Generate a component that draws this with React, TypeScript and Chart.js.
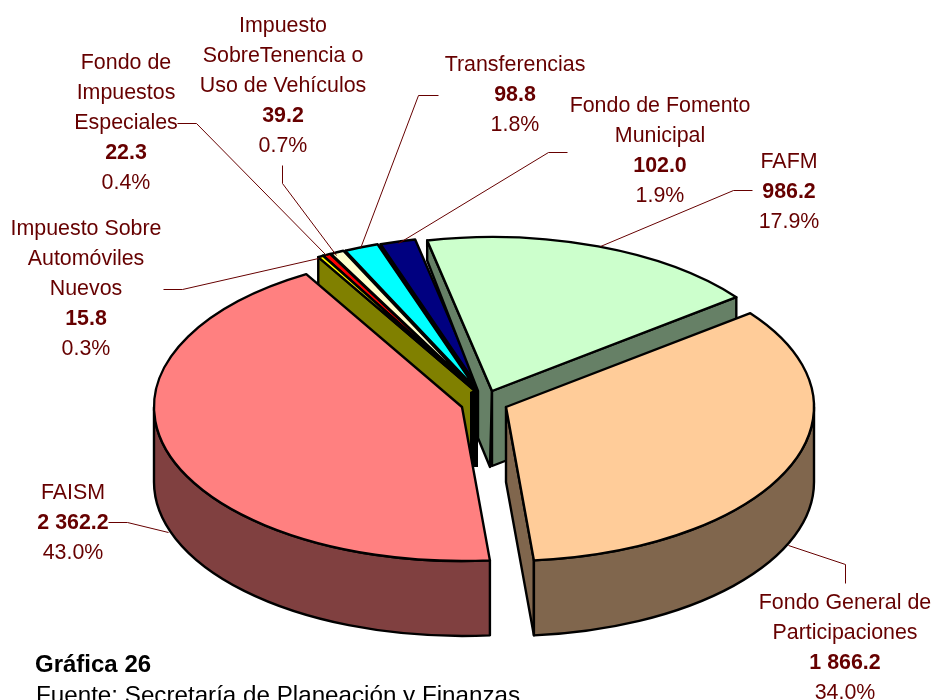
import React, { useEffect, useRef } from "react";
import { Chart, registerables } from "chart.js";

Chart.register(...registerables);

const categories = [
  "FAISM",
  "Impuesto Sobre Automóviles Nuevos",
  "Fondo de Impuestos Especiales",
  "Impuesto SobreTenencia o Uso de Vehículos",
  "Transferencias",
  "Fondo de Fomento Municipal",
  "FAFM",
  "Fondo General de Participaciones",
];
const values = [2362.2, 15.8, 22.3, 39.2, 98.8, 102.0, 986.2, 1866.2];
const valueLabels = ["2 362.2", "15.8", "22.3", "39.2", "98.8", "102.0", "986.2", "1 866.2"];
const percentLabels = ["43.0%", "0.3%", "0.4%", "0.7%", "1.8%", "1.9%", "17.9%", "34.0%"];
const topColors = ["#FF8080", "#FFFF00", "#FF0000", "#FFFFCC", "#00FFFF", "#000080", "#CCFFCC", "#FFCC99"];
const sideColors = ["#804040", "#808000", "#800000", "#808066", "#008080", "#000040", "#668066", "#80664D"];

// layout of the exploded 3-D pie
const ROTATION = 174.8;
const SQUASH = 0.5;
const RADIUS = 308;
const DEPTH = 75;
const tipX = [462, 474, 474, 475, 477, 480, 492, 506];
const tipY = [407, 390, 390, 390, 390, 390, 391, 407];
const faceFar = [75, 75, 20, 20, 20, 20, 20, 75];
const faceNear = [75, 75, 40, 40, 40, 40, 77, 75];
const paintOrder = [5, 4, 3, 2, 1, 6, 0, 7];
const FAFM_INDEX = 6;
const FIRST_FRONT = 6;
// inner notch of the FAFM cut face and the dark seam at the centre
const fafmNotch = [[-14, 0], [-14, 47], [-2, 76]];
const seam = [[470, 392], [478, 388], [478, 467], [470, 467]];

const MAROON = "#660000";
const labelLines: { lines: string[]; x: number; y: number; boldIndex: number }[] = [
  { lines: ["FAISM"], x: 73, y: 493, boldIndex: 1 },
  { lines: ["Impuesto Sobre", "Automóviles", "Nuevos"], x: 86, y: 229, boldIndex: 3 },
  { lines: ["Fondo de", "Impuestos", "Especiales"], x: 126, y: 63, boldIndex: 3 },
  { lines: ["Impuesto", "SobreTenencia o", "Uso de Vehículos"], x: 283, y: 26, boldIndex: 3 },
  { lines: ["Transferencias"], x: 515, y: 65, boldIndex: 1 },
  { lines: ["Fondo de Fomento", "Municipal"], x: 660, y: 106, boldIndex: 2 },
  { lines: ["FAFM"], x: 789, y: 162, boldIndex: 1 },
  { lines: ["Fondo General de", "Participaciones"], x: 845, y: 603, boldIndex: 2 },
];
const leaders: number[][][] = [
  [[108, 522], [127, 522], [168, 532]],
  [[163, 289], [182, 289], [318, 258]],
  [[177, 123], [196, 123], [326, 255]],
  [[282, 165], [282, 183], [336, 255]],
  [[438, 95], [418, 95], [360, 248]],
  [[567, 152], [548, 152], [398, 243]],
  [[752, 190], [733, 190], [600, 246]],
  [[845, 583], [845, 564], [788, 545]],
];

const pt = (cx: number, cy: number, r: number, a: number) => [
  cx + r * Math.cos(a),
  cy + r * Math.sin(a) * SQUASH,
];

const pie3d = {
  id: "pie3d",
  beforeDatasetsDraw(chart: any) {
    const ctx: CanvasRenderingContext2D = chart.ctx;
    const arcs = chart.getDatasetMeta(0).data;
    ctx.lineJoin = "round";
    ctx.lineWidth = 2.4;
    ctx.strokeStyle = "#000";
    for (const i of paintOrder) {
      if (i === FIRST_FRONT) {
        ctx.fillStyle = "#000";
        ctx.beginPath();
        seam.forEach(([sx, sy], k) => (k ? ctx.lineTo(sx, sy) : ctx.moveTo(sx, sy)));
        ctx.closePath();
        ctx.fill();
      }
      const arc = arcs[i];
      const { startAngle: a, endAngle: b, outerRadius: r } = arc.getProps(["startAngle", "endAngle", "outerRadius"]);
      const x = tipX[i];
      const y = tipY[i];
      ctx.fillStyle = sideColors[i];
      const face = (ang: number, isStart: boolean) => {
        const [px, py] = pt(x, y, r, ang);
        const notched = i === FAFM_INDEX && isStart;
        ctx.beginPath();
        ctx.moveTo(x, y);
        ctx.lineTo(px, py);
        ctx.lineTo(px, py + (isStart ? faceFar[i] : DEPTH));
        if (notched) {
          fafmNotch.forEach(([dx, dy]) => ctx.lineTo(x + dx, y + dy));
        } else {
          ctx.lineTo(x, y + (isStart ? faceNear[i] : DEPTH));
        }
        ctx.closePath();
        ctx.fill();
        ctx.stroke();
      };
      if (Math.cos(a) < 0) face(a, true);
      if (Math.cos(b) > 0) face(b, false);
      // rim, only on the front half of the ellipse
      const tau = Math.PI * 2;
      const ranges: number[][] = [];
      const lo = Math.max(a, 0);
      const hi = Math.min(b, Math.PI);
      if (hi > lo) ranges.push([lo, hi]);
      const lo2 = Math.max(a, tau);
      const hi2 = Math.min(b, tau + Math.PI);
      if (hi2 > lo2) ranges.push([lo2, hi2]);
      for (const [s, e] of ranges) {
        ctx.beginPath();
        ctx.ellipse(x, y, r, r * SQUASH, 0, s, e);
        ctx.ellipse(x, y + DEPTH, r, r * SQUASH, 0, e, s, true);
        ctx.closePath();
        ctx.fill();
        ctx.stroke();
      }
      // top face, drawn by the library's arc element in squashed space
      ctx.save();
      ctx.translate(x, y);
      ctx.scale(1, SQUASH);
      ctx.translate(-arc.x, -arc.y);
      arc.draw(ctx);
      ctx.restore();
      ctx.beginPath();
      ctx.moveTo(x, y);
      ctx.ellipse(x, y, r, r * SQUASH, 0, a, b);
      ctx.closePath();
      ctx.stroke();
    }
  },
  beforeDatasetDraw() {
    return false;
  },
  afterDraw(chart: any) {
    const ctx: CanvasRenderingContext2D = chart.ctx;
    ctx.save();
    ctx.strokeStyle = MAROON;
    ctx.lineWidth = 1;
    for (const path of leaders) {
      ctx.beginPath();
      path.forEach(([x, y], k) => (k ? ctx.lineTo(x + 0.5, y + 0.5) : ctx.moveTo(x + 0.5, y + 0.5)));
      ctx.stroke();
    }
    ctx.textAlign = "center";
    ctx.textBaseline = "middle";
    const GAP = 30;
    categories.forEach((_, i) => {
      const l = labelLines[i];
      ctx.fillStyle = MAROON;
      l.lines.forEach((t, k) => {
        ctx.font = '21.4px "Liberation Sans"';
        ctx.fillText(t, l.x, l.y + k * GAP);
      });
      ctx.font = 'bold 21.4px "Liberation Sans"';
      ctx.fillText(valueLabels[i], l.x, l.y + l.boldIndex * GAP);
      ctx.font = '21.4px "Liberation Sans"';
      ctx.fillText(percentLabels[i], l.x, l.y + (l.boldIndex + 1) * GAP);
    });
    ctx.textAlign = "left";
    ctx.textBaseline = "alphabetic";
    ctx.fillStyle = "#000";
    ctx.font = 'bold 24px "Liberation Sans"';
    ctx.fillText("Gráfica 26", 35, 672);
    ctx.font = '24.2px "Liberation Sans"';
    ctx.fillText("Fuente: Secretaría de Planeación y Finanzas", 36, 703);
    ctx.restore();
  },
};

export default function App() {
  const ref = useRef<HTMLCanvasElement>(null);
  useEffect(() => {
    const chart = new Chart(ref.current!, {
      type: "pie",
      data: {
        labels: categories,
        datasets: [{ data: values, backgroundColor: topColors, borderWidth: 0, borderColor: "#000" }],
      },
      options: {
        animation: false,
        responsive: false,
        rotation: ROTATION,
        radius: RADIUS,
        layout: { padding: 0 },
        plugins: { legend: { display: false }, tooltip: { enabled: false } },
      },
      plugins: [pie3d],
    } as any);
    return () => chart.destroy();
  }, []);
  return (
    <canvas
      ref={ref}
      width={933}
      height={700}
      style={{ position: "fixed", left: 0, top: 0, width: 933, height: 700, background: "#fff" }}
    />
  );
}
